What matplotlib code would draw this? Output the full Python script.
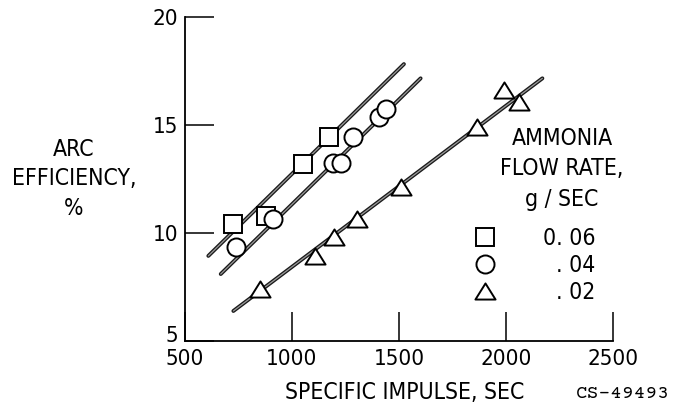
import matplotlib
matplotlib.use("Agg")
import matplotlib.pyplot as plt
import matplotlib.transforms as mtransforms
from matplotlib.lines import Line2D
from matplotlib.path import Path

plt.rcParams['font.family'] = ['DejaVu Sans']
plt.rcParams['font.stretch'] = 'condensed'

# ---- data ----
sq_x = [723, 878, 1050, 1174]
sq_y = [10.42, 10.79, 13.19, 14.46]
ci_x = [738, 913, 1193, 1227, 1283, 1408, 1439]
ci_y = [9.34, 10.63, 13.25, 13.25, 14.46, 15.38, 15.72]
tr_x = [850, 1107, 1196, 1302, 1508, 1866, 1992, 2061]
tr_y = [7.39, 8.94, 9.80, 10.63, 12.14, 14.92, 16.62, 16.08]

# fitted lines (end points)
sq_line_x = [609, 1523]
sq_line_y = [8.94, 17.82]
ci_line_x = [667, 1601]
ci_line_y = [8.10, 17.16]
tr_line_x = [726, 2170]
tr_line_y = [6.39, 17.16]

x_ticks = [500, 1000, 1500, 2000, 2500]
y_ticks = [5, 10, 15, 20]
flow_labels = ["0. 06", "  . 04", "  . 02"]

tri = Path([(-1, -0.8), (1, -0.8), (0, 0.8), (-1, -0.8)],
           [Path.MOVETO, Path.LINETO, Path.LINETO, Path.CLOSEPOLY])

SQ_MS, CI_MS, TR_MS = 12.5, 13, 14.5

fig = plt.figure(figsize=(6.76, 4.11), dpi=100)
ax = fig.add_axes([185/676, 1-341/411, 428/676, 324/411])
ax.set_xlim(500, 2500)
ax.set_ylim(5, 20)

for lx, ly in [(sq_line_x, sq_line_y), (ci_line_x, ci_line_y), (tr_line_x, tr_line_y)]:
    ax.plot(lx, ly, color='#1a1a1a', lw=2.8, solid_capstyle='round', zorder=2)
    ax.plot(lx, ly, color='#9a9a9a', lw=0.9, solid_capstyle='round', zorder=2.1)

mk = dict(linestyle='none', mfc='white', mec='black', mew=1.4, zorder=3)
ax.plot(sq_x, sq_y, marker='s', ms=SQ_MS, **mk)
ax.plot(ci_x, ci_y, marker='o', ms=CI_MS, **mk)
ax.plot(tr_x, tr_y, marker=tri, ms=TR_MS, **mk)

for s in ['top', 'right']:
    ax.spines[s].set_visible(False)
for s in ['left', 'bottom']:
    ax.spines[s].set_linewidth(1.3)

ax.set_xticks(x_ticks)
ax.set_yticks(y_ticks)
ax.tick_params(direction='in', length=21, width=1.1, labelsize=16)
ax.tick_params(axis='x', pad=6)
ax.tick_params(axis='y', pad=5)
# lift the "5" label a little so it sits above "500", as in the reference
lab5 = ax.get_yticklabels()[0]
lab5.set_transform(lab5.get_transform() + mtransforms.ScaledTranslation(0, 5/72, fig.dpi_scale_trans))

ax.set_xlabel("SPECIFIC IMPULSE, SEC", fontsize=16.5)
ax.xaxis.set_label_coords((405-185)/428, (341-392)/324)
ax.xaxis.label.set_va('center')
ax.set_ylabel("ARC\nEFFICIENCY,\n%", fontsize=16.5, rotation=0,
              ha='center', va='center', linespacing=1.35)
ax.yaxis.set_label_coords((74-185)/428, (341-179)/324)

ax.text((562-185)/428, (341-169)/324, "AMMONIA\nFLOW RATE,\ng / SEC",
        transform=ax.transAxes, ha='center', va='center', fontsize=16.5,
        linespacing=1.42)

handles = [
    Line2D([], [], marker='s', ms=SQ_MS, linestyle='none', mfc='white', mec='black', mew=1.4),
    Line2D([], [], marker='o', ms=CI_MS, linestyle='none', mfc='white', mec='black', mew=1.4),
    Line2D([], [], marker=tri, ms=TR_MS, linestyle='none', mfc='white', mec='black', mew=1.4),
]
ax.legend(handles, flow_labels, loc='upper left',
          bbox_to_anchor=((474-185)/428, (341-227)/324),
          frameon=False, fontsize=16.5, handlelength=1.0, handletextpad=2.0,
          labelspacing=0.18, borderpad=0, borderaxespad=0, numpoints=1)

fig.text(670/676, 1-394/411, "CS-49493", ha='right', va='center',
         fontsize=14, family=['Courier Prime', 'Liberation Mono', 'DejaVu Sans Mono'],
         stretch='normal')

fig.savefig("out.png", dpi=100)
